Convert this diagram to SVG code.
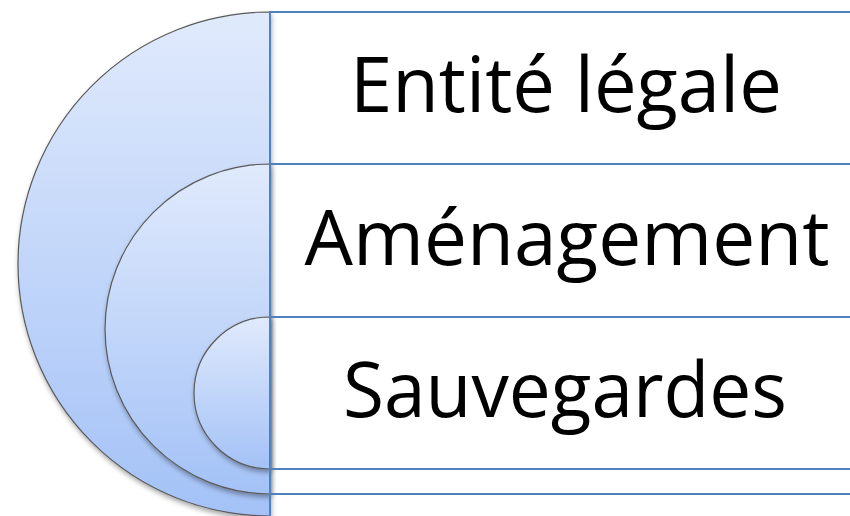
<svg xmlns="http://www.w3.org/2000/svg" width="850" height="516" viewBox="0 0 850 516">
<defs>
<linearGradient id="g" x1="0" y1="0" x2="0" y2="1">
<stop offset="0" stop-color="#e0eafc"/>
<stop offset="1" stop-color="#a4c2f7"/>
</linearGradient>
<filter id="sh" x="-20%" y="-20%" width="140%" height="140%">
<feDropShadow dx="1" dy="3" stdDeviation="2.5" flood-color="#000" flood-opacity="0.35"/>
</filter>
<style>
.arc{fill:url(#g);stroke:#5a5a5a;stroke-width:1.2;filter:url(#sh)}
.ln{stroke:#4f81bd;stroke-width:2;fill:none}
.t{font-family:"Open Sans","Noto Sans",sans-serif;font-size:76px;fill:#000;text-anchor:middle}
</style>
</defs>
<rect width="850" height="516" fill="#fff"/>
<g id="outer"><path class="arc" d="M270,12 A252,252 0 0 0 270,516 Z"/></g>
<g id="middle"><path class="arc" d="M270,164 A165,165 0 0 0 270,494 Z"/></g>
<g id="inner"><path class="arc" d="M270,317 A76,76 0 0 0 270,469 Z"/></g>
<g id="connectors">
<line class="ln" x1="270" y1="11" x2="270" y2="516"/>
<line class="ln" x1="270" y1="12" x2="850" y2="12"/>
<line class="ln" x1="270" y1="164" x2="850" y2="164"/>
<line class="ln" x1="270" y1="317" x2="850" y2="317"/>
<line class="ln" x1="270" y1="469" x2="850" y2="469"/>
<line class="ln" x1="270" y1="494" x2="850" y2="494"/>
</g>
<g id="labels">
<text class="t" x="566" y="112" textLength="432" lengthAdjust="spacingAndGlyphs">Entité légale</text>
<text class="t" x="567" y="265" textLength="525" lengthAdjust="spacingAndGlyphs">Aménagement</text>
<text class="t" x="565" y="417" textLength="444" lengthAdjust="spacingAndGlyphs">Sauvegardes</text>
</g>
</svg>
